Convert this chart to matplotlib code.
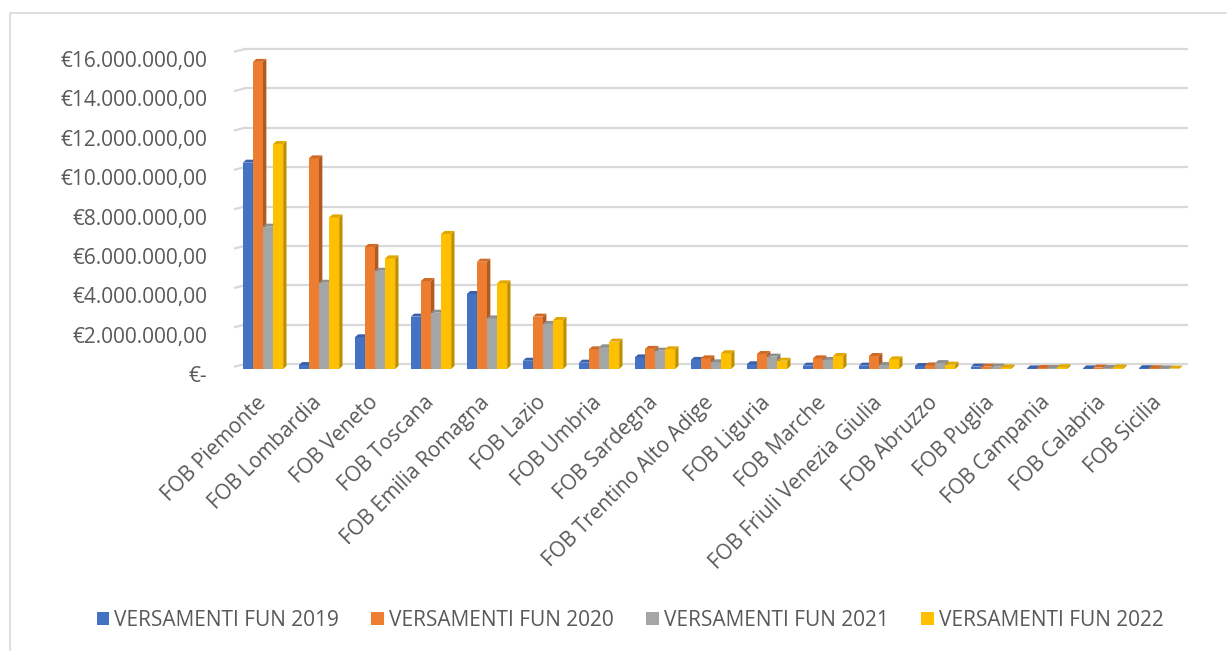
import matplotlib.pyplot as plt
import numpy as np
from matplotlib.patches import Patch, Polygon, Rectangle
from matplotlib.ticker import FuncFormatter
from matplotlib.transforms import ScaledTranslation, offset_copy

plt.rcParams['font.family'] = ['Open Sans', 'DejaVu Sans']

regions = [
    "FOB Piemonte", "FOB Lombardia", "FOB Veneto", "FOB Toscana",
    "FOB Emilia Romagna", "FOB Lazio", "FOB Umbria", "FOB Sardegna",
    "FOB Trentino Alto Adige", "FOB Liguria", "FOB Marche",
    "FOB Friuli Venezia Giulia", "FOB Abruzzo", "FOB Puglia",
    "FOB Campania", "FOB Calabria", "FOB Sicilia",
]
series_names = [
    "VERSAMENTI FUN 2019", "VERSAMENTI FUN 2020",
    "VERSAMENTI FUN 2021", "VERSAMENTI FUN 2022",
]
# values in millions of euro
fun_2019 = [10.48, 0.20, 1.61, 2.66, 3.81, 0.42, 0.32, 0.59, 0.46, 0.24,
            0.17, 0.17, 0.15, 0.12, 0.03, 0.03, 0.04]
fun_2020 = [15.60, 10.70, 6.20, 4.47, 5.45, 2.66, 1.00, 1.02, 0.54, 0.76,
            0.54, 0.66, 0.18, 0.12, 0.05, 0.07, 0.04]
fun_2021 = [7.23, 4.38, 4.99, 2.86, 2.57, 2.29, 1.10, 0.93, 0.34, 0.63,
            0.46, 0.20, 0.30, 0.12, 0.05, 0.05, 0.03]
fun_2022 = [11.43, 7.70, 5.62, 6.86, 4.35, 2.49, 1.39, 1.00, 0.80, 0.42,
            0.66, 0.49, 0.22, 0.08, 0.09, 0.08, 0.02]
y_ticks = [0, 2e6, 4e6, 6e6, 8e6, 10e6, 12e6, 14e6, 16e6]

front_colors = ['#4472C4', '#ED7D31', '#A5A5A5', '#FFC000']
side_colors = ['#2F528F', '#AE5A21', '#7B7B7B', '#BF9000']
top_colors = ['#3A62AC', '#D06A25', '#8F8F8F', '#E0A800']
grid_color = '#D9D9D9'
text_color = '#595959'

fig = plt.figure(figsize=(12.27, 6.51), dpi=100)
ax = fig.add_axes((235/1227, 1 - 369/651, 952/1227, 315/651))

values = np.array([fun_2019, fun_2020, fun_2021, fun_2022]) * 1e6
x = np.arange(len(regions))
w = 0.18
dx = 0.06
dy = 3 / 315 * 16e6

for k in range(len(series_names)):
    pos = x + (k - 1.5) * w
    ax.bar(pos, values[k], width=w, color=front_colors[k], zorder=3 + k,
           linewidth=0)
    for xc, h in zip(pos, values[k]):
        l, r = xc - w/2, xc + w/2
        side = Polygon([(r, 0), (r + dx, dy), (r + dx, h + dy), (r, h)],
                       closed=True, facecolor=side_colors[k], linewidth=0,
                       zorder=3 + k)
        top = Polygon([(l, h), (l + dx, h + dy), (r + dx, h + dy), (r, h)],
                      closed=True, facecolor=top_colors[k], linewidth=0,
                      zorder=3 + k)
        ax.add_patch(side)
        ax.add_patch(top)

# back-wall gridlines with small perspective stubs on the left
grid_trans = offset_copy(ax.transData, fig=fig, x=0, y=5, units='dots')
stub_w = 10 / 56
for v in y_ticks:
    ax.plot([-0.5 + stub_w, 16.5], [v, v], color=grid_color, linewidth=1.6,
            transform=grid_trans, zorder=1, clip_on=False)
    ax.plot([-0.5, -0.5 + stub_w], [v - 5 / 315 * 16e6 * 0.5, v],
            color=grid_color, linewidth=1.6, transform=grid_trans,
            zorder=1, clip_on=False)

ax.set_xlim(-0.5, 16.5)
ax.set_ylim(0, 16e6)
ax.set_yticks(y_ticks)


def euro(v, _pos):
    if v == 0:
        return '€-'
    s = f"{v:,.2f}".replace(',', 'X').replace('.', ',').replace('X', '.')
    return '€' + s


ax.yaxis.set_major_formatter(FuncFormatter(euro))
ax.set_xticks(x)
ax.set_xticklabels(regions, rotation=45, ha='right', va='center',
                   rotation_mode='anchor')
ax.tick_params(axis='both', length=0, labelsize=15, labelcolor=text_color)
ax.tick_params(axis='y', pad=20)
ax.tick_params(axis='x', pad=22)
shift = ScaledTranslation(0, -5/100, fig.dpi_scale_trans)
for lab in ax.get_yticklabels():
    lab.set_transform(lab.get_transform() + shift)
for spine in ax.spines.values():
    spine.set_visible(False)
ax.patch.set_alpha(0)

handles = [Patch(facecolor=c, edgecolor='none') for c in front_colors]
fig.legend(handles, series_names, loc='center',
           bbox_to_anchor=(630/1227, 1 - 620/651), ncol=4, frameon=False,
           fontsize=15, labelcolor=text_color, handlelength=0.6,
           handleheight=0.6, handletextpad=0.25, columnspacing=1.55)

# chart-area border
fig.patches.append(Rectangle((10/1227, -0.1), 1.2, 1.1 - 13/651,
                             transform=fig.transFigure, fill=False,
                             edgecolor=grid_color, linewidth=1.2))

fig.savefig('out.png', dpi=100)
